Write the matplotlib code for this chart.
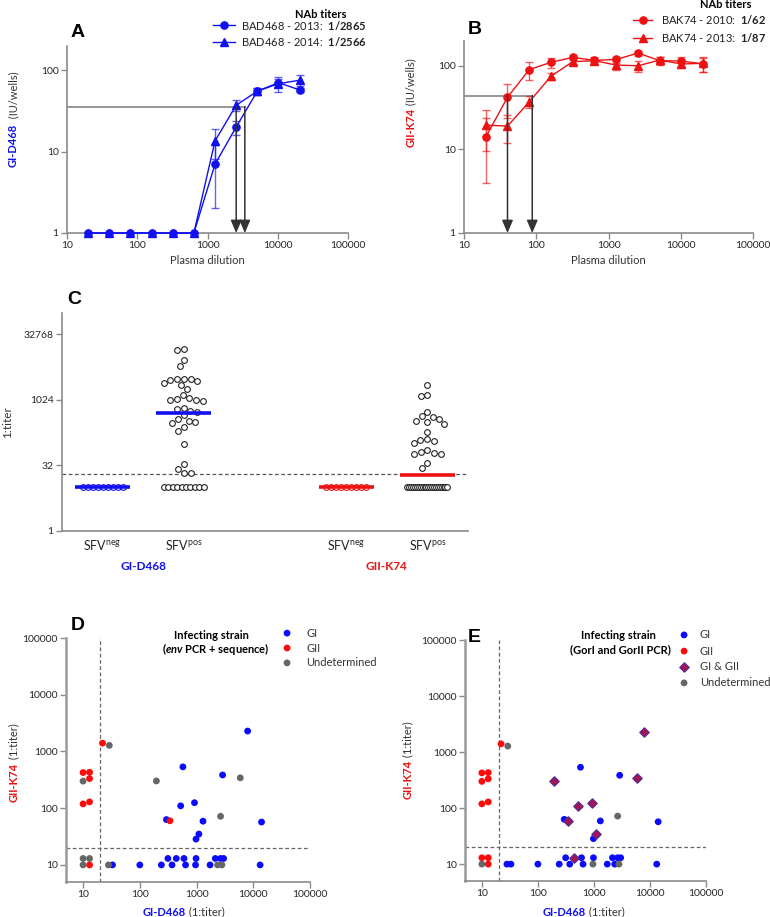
import numpy as np
import matplotlib
matplotlib.use("Agg")
import matplotlib.pyplot as plt
from matplotlib.ticker import NullLocator

plt.rcParams.update({
    "font.family": ["Lato", "DejaVu Sans"],
    "mathtext.fontset": "custom",
    "mathtext.rm": "Lato",
    "mathtext.bf": "Lato:bold",
    "mathtext.it": "Lato:italic:bold",
    "axes.edgecolor": "#8a8a8a",
    "axes.linewidth": 1.2,
    "xtick.color": "#8a8a8a",
    "ytick.color": "#8a8a8a",
    "xtick.labelcolor": "#262626",
    "ytick.labelcolor": "#262626",
})

BLUE = "#1010f0"
RED = "#ee1111"
GREY = "#666666"

# ---- Panels A / B : neutralisation curves ----
dilutions = [20, 40, 80, 160, 320, 640, 1280, 2560, 5120, 10240, 20480]
a_2013 = [1, 1, 1, 1, 1, 1, 7, 20, 55, 70, 57]
a_2013_sd = [0, 0, 0, 0, 0, 0, 5, 4, 6, 8, 3]
a_2014 = [1, 1, 1, 1, 1, 1, 13.5, 37, 55, 68, 75]
a_2014_sd = [0, 0, 0, 0, 0, 0, 5.5, 6, 6, 14, 12]
a_cut = 35.5
a_arrows = [2560, 3400]

b_2010 = [14, 42, 90, 110, 126, 116, 119, 142, 115, 114, 105]
b_2010_sd = [10, 18, 22, 15, 10, 12, 10, 10, 12, 15, 20]
b_2013 = [19.5, 19, 37, 75, 112, 115, 102, 100, 117, 105, 107]
b_2013_sd = [10, 7, 6, 7, 8, 8, 12, 15, 12, 12, 22]
b_cut = 44
b_arrows = [40, 88]

# ---- Panel C : titers per group ----
c_labels = ["SFV$^{\\mathrm{neg}}$", "SFV$^{\\mathrm{pos}}$",
            "SFV$^{\\mathrm{neg}}$", "SFV$^{\\mathrm{pos}}$"]
c_pos = [1, 2, 4, 5]
gi_neg = [10] * 9
gi_pos = [14800, 14000, 8400, 6200, 3100, 3100, 3000, 2900, 2700, 2500, 2200, 1780,
          1330, 1140, 1040, 1000, 1000, 970, 660, 625, 580, 550, 446, 374, 342, 313,
          302, 240, 201, 99, 34, 27, 21.7, 21.7] + [10] * 10
gii_neg = [10] * 9
gii_pos = [2270, 1350, 1260, 533, 430, 415, 380, 342, 324, 292, 185, 127, 123, 116,
           106, 71, 64, 61, 58.5, 58.5, 35.5, 28] + [10] * 22
c_cut = 20

# ---- Panels D / E : GI vs GII titers ----
scat_gi = [10, 13, 13, 10, 10, 13, 22, 29, 7950, 575, 2880, 196, 5900, 920, 525, 295,
           340, 2650, 1300, 14000, 1100, 980,
           10, 13, 313, 440, 600, 980, 2140, 2650, 3000,
           10, 13, 28, 33, 100, 240, 370, 640, 960, 1730, 2350, 2800, 13200]
scat_gii = [425, 430, 333, 300, 119, 129, 1400, 1280, 2290, 535, 385, 302, 343, 125,
            110, 63, 60, 72, 59, 57, 35, 28.5] + [13] * 9 + [10] * 13
env_group = ["GII", "GII", "GII", "Und", "GII", "GII", "GII", "Und", "GI", "GI", "GI",
             "Und", "Und", "GI", "GI", "GI", "GII", "Und", "GI", "GI", "GI", "GI",
             "Und", "Und", "GI", "GI", "GI", "GI", "GI", "GI", "GI",
             "Und", "GII", "Und", "GI", "GI", "GI", "GI", "GI", "GI", "GI", "Und", "Und", "GI"]
gor_group = ["GII", "GII", "GII", "GII", "GII", "GII", "GII", "Und", "GI&GII", "GI", "GI",
             "GI&GII", "GI&GII", "GI&GII", "GI&GII", "GI", "GI&GII", "Und", "GI", "GI", "GI&GII", "GI",
             "GII", "GII", "GI", "GI&GII", "GI", "GI", "GI", "GI", "GI",
             "Und", "GII", "GI", "GI", "GI", "GI", "GI", "GI", "Und", "GI", "GI", "Und", "GI"]
cut_scatter = 20

W, H = 770, 917
fig = plt.figure(figsize=(W / 100, H / 100), dpi=100)


def box(left, right, top, bottom):
    return [left / W, 1 - bottom / H, (right - left) / W, (bottom - top) / H]


def style(ax, fs=7.5):
    for s in ["top", "right"]:
        ax.spines[s].set_visible(False)
    ax.tick_params(direction="out", length=4, width=1, labelsize=fs, pad=2)
    ax.xaxis.set_minor_locator(NullLocator())
    ax.yaxis.set_minor_locator(NullLocator())


def log_ticks(ax, axis, vals):
    labels = [str(v) for v in vals]
    if axis == "x":
        ax.set_xticks(vals)
        ax.set_xticklabels(labels)
        ax.xaxis.set_minor_locator(NullLocator())
    else:
        ax.set_yticks(vals)
        ax.set_yticklabels(labels)
        ax.yaxis.set_minor_locator(NullLocator())


def vlabel(ax, x, y, first, color, second, fs=8):
    ax.text(x, y, first, color=color, fontweight="bold", rotation=90, ha="center",
            va="top", fontsize=fs, transform=ax.transAxes)
    ax.text(x, y, second, color="#333333", rotation=90, ha="center", va="bottom",
            fontsize=fs, transform=ax.transAxes)


def hlabel(ax, x, y, first, color, second, fs=8):
    ax.text(x, y, first, color=color, fontweight="bold", ha="right", va="center",
            fontsize=fs, transform=ax.transAxes)
    ax.text(x, y, second, color="#333333", ha="left", va="center", fontsize=fs,
            transform=ax.transAxes)


def curve_panel(ax, s1, sd1, s2, sd2, color, cut, arrows, names, ylab):
    ax.set_xscale("log")
    ax.set_yscale("log")
    ax.set_xlim(10, 100000)
    ax.set_ylim(1, 200)
    style(ax)
    log_ticks(ax, "x", [10, 100, 1000, 10000, 100000])
    log_ticks(ax, "y", [1, 10, 100])
    x = np.array(dilutions)
    for vals, sd, mk in [(s1, sd1, "o"), (s2, sd2, "^")]:
        vals, sd = np.array(vals, float), np.array(sd, float)
        m = sd > 0
        ax.errorbar(x[m], vals[m], yerr=sd[m], fmt="none", ecolor=color, alpha=0.65,
                    elinewidth=1, capsize=3, capthick=1, zorder=3)
        ax.plot(x, vals, "-" + mk, color=color, ms=5.2, lw=1, zorder=4, clip_on=False)
    ax.plot([10, max(arrows)], [cut, cut], color="#7a7a7a", lw=1.1, zorder=2)
    for xa in arrows:
        ax.annotate("", xy=(xa, 1), xytext=(xa, cut),
                    arrowprops=dict(arrowstyle="-|>,head_length=0.7,head_width=0.3",
                                    color="#333333", lw=1.1, mutation_scale=11,
                                    shrinkA=0, shrinkB=0), zorder=5)
    ax.set_xlabel("Plasma dilution", fontsize=8, color="#333333", labelpad=3)
    vlabel(ax, ylab[0], ylab[1], ylab[2], color, ylab[3])
    # legend
    lx0, lx1, ty, y1, y2, tx, hx = names["geom"]
    ax.text(hx, ty, "NAb titers", fontweight="bold", fontsize=8, ha="center",
            va="center", transform=ax.transAxes)
    for yy, mk, lab in [(y1, "o", names["l1"]), (y2, "^", names["l2"])]:
        ax.plot([lx0, lx1], [yy, yy], color=color, lw=1, transform=ax.transAxes,
                clip_on=False)
        ax.plot([(lx0 + lx1) / 2], [yy], mk, color=color, ms=5.2,
                transform=ax.transAxes, clip_on=False)
        ax.text(tx, yy, lab, fontsize=8, ha="left", va="center", color="#222222",
                transform=ax.transAxes)


# Panel A
axA = fig.add_axes(box(67, 348, 45.5, 233))
curve_panel(axA, a_2013, a_2013_sd, a_2014, a_2014_sd, BLUE, a_cut, a_arrows,
            {"geom": (0.52, 0.598, 1.168, 1.109, 1.019, 0.619, 0.904),
             "l1": "BAD468 - 2013:  $\\mathbf{1/2865}$",
             "l2": "BAD468 - 2014:  $\\mathbf{1/2566}$"},
            (-0.19, 0.58, "GI-D468", "  (IU/wells)"))

# Panel B
axB = fig.add_axes(box(464, 753, 40.6, 233))
curve_panel(axB, b_2010, b_2010_sd, b_2013, b_2013_sd, RED, b_cut, b_arrows,
            {"geom": (0.585, 0.651, 1.1875, 1.109, 1.016, 0.682, 0.907),
             "l1": "BAK74 - 2010:  $\\mathbf{1/62}$",
             "l2": "BAK74 - 2013:  $\\mathbf{1/87}$"},
            (-0.183, 0.65, "GII-K74", " (IU/wells)"))


# Panel C
def swarm_x(ax, xc, vals, diam=7.0, floor_width=40.0):
    vals = np.asarray(vals, float)
    xs = np.full(len(vals), float(xc))
    tr = ax.transData
    ppu = tr.transform((xc + 1, 10))[0] - tr.transform((xc, 10))[0]
    ypx = tr.transform(np.column_stack([xs, vals]))[:, 1]
    floor = vals == vals.min()
    idx = np.where(floor)[0]
    k = len(idx)
    if k > 1:
        step = min(diam * 0.85, floor_width / (k - 1))
        xs[idx] = xc + (np.arange(k) - (k - 1) / 2) * step / ppu
    placed = []
    for i in np.argsort(-vals, kind="stable"):
        if floor[i]:
            continue
        cands = [0.0]
        for px, py in placed:
            dy = abs(py - ypx[i])
            if dy < diam:
                dx = np.sqrt(diam ** 2 - dy ** 2)
                cands += [px - dx, px + dx]
        cands.sort(key=lambda c: (abs(c), c))
        for c in cands:
            if all((c - px) ** 2 + (ypx[i] - py) ** 2 >= diam ** 2 - 1e-6 for px, py in placed):
                break
        placed.append((c, ypx[i]))
        xs[i] = xc + c / ppu
    return xs


axC = fig.add_axes(box(62, 468, 313, 531))
axC.set_yscale("log", base=2)
axC.set_ylim(1, 100000)
axC.set_xlim(0.5, 5.5)
style(axC)
log_ticks(axC, "y", [1, 32, 1024, 32768])
axC.set_xticks(c_pos)
axC.set_xticklabels(c_labels, fontsize=9)
axC.tick_params(axis="x", length=0, pad=5)
axC.axhline(c_cut, color="#555555", ls=(0, (3, 2)), lw=0.9, zorder=1)
for xc, vals, edge, mcol in [(1, gi_neg, BLUE, BLUE), (2, gi_pos, "#222222", BLUE),
                             (4, gii_neg, RED, RED), (5, gii_pos, "#222222", RED)]:
    xs = swarm_x(axC, xc, vals)
    axC.scatter(xs, vals, s=17, facecolors="white", edgecolors=edge, linewidths=0.8,
                zorder=3, clip_on=False)
    axC.hlines(np.median(vals), xc - 0.34, xc + 0.34, color=mcol, lw=2.6, zorder=4)
xtr = axC.get_xaxis_transform()
axC.text(1.5, -0.165, "GI-D468", color=BLUE, fontweight="bold", fontsize=8.5,
         ha="center", va="center", transform=xtr)
axC.text(4.5, -0.165, "GII-K74", color=RED, fontweight="bold", fontsize=8.5,
         ha="center", va="center", transform=xtr)
axC.text(-0.133, 0.5, "1:titer", rotation=90, fontsize=8.5, color="#333333",
         ha="center", va="center", transform=axC.transAxes)

# Panels D / E
styles = {
    "GI": dict(marker="o", s=24, color="#0a0aff", edgecolors="none"),
    "GII": dict(marker="o", s=24, color="#ff0a0a", edgecolors="none"),
    "GI&GII": dict(marker="D", s=22, facecolors="#a8124e", edgecolors="#5a2a90",
                   linewidths=1),
    "Und": dict(marker="o", s=24, color=GREY, edgecolors="none"),
}
names = {"GI": "GI", "GII": "GII", "GI&GII": "GI & GII", "Und": "Undetermined"}


def scatter_panel(ax, groups, order, title2, geom):
    ax.set_xscale("log")
    ax.set_yscale("log")
    ax.set_xlim(5, 100000)
    ax.set_ylim(5, 100000)
    style(ax)
    ax.spines["left"].set_linewidth(1.8)
    ax.spines["left"].set_color("#9a9a9a")
    log_ticks(ax, "x", [10, 100, 1000, 10000, 100000])
    log_ticks(ax, "y", [10, 100, 1000, 10000, 100000])
    ax.axvline(cut_scatter, color="#666666", ls=(0, (3, 2)), lw=0.9, zorder=1)
    ax.axhline(cut_scatter, color="#666666", ls=(0, (3, 2)), lw=0.9, zorder=1)
    gx, gy = np.array(scat_gi, float), np.array(scat_gii, float)
    g = np.array(groups)
    for name in ["GI", "GII", "Und", "GI&GII"]:
        m = g == name
        if m.any():
            ax.scatter(gx[m], gy[m], zorder=3, clip_on=False, **styles[name])
    tx, t1y, t2x, t2y, mx, my, lx = geom
    ax.text(tx, t1y, "Infecting strain", fontweight="bold", fontsize=8, ha="center",
            va="center", transform=ax.transAxes)
    ax.text(t2x, t2y, title2, fontweight="bold", fontsize=8, ha="center",
            va="center", transform=ax.transAxes)
    for name, yy in zip(order, my):
        ax.scatter([mx], [yy], transform=ax.transAxes, clip_on=False, **styles[name])
        ax.text(lx, yy, names[name], fontsize=8, color="#333333", ha="left",
                va="center", transform=ax.transAxes)


axD = fig.add_axes(box(66, 310, 638, 882))
scatter_panel(axD, env_group, ["GI", "GII", "Und"], "($\\mathit{env}$ PCR + sequence)",
              (0.598, 1.012, 0.615, 0.955, 0.906, [1.02, 0.959, 0.898], 0.984))
vlabel(axD, -0.213, 0.49, "GII-K74", RED, " (1:titer)")
hlabel(axD, 0.49, -0.123, "GI-D468", BLUE, " (1:titer)")

axE = fig.add_axes(box(465, 706, 640, 881))
scatter_panel(axE, gor_group, ["GI", "GII", "GI&GII", "Und"], "(GorI and GorII PCR)",
              (0.635, 1.02, 0.647, 0.959, 0.909, [1.021, 0.954, 0.888, 0.822], 0.975))
vlabel(axE, -0.237, 0.502, "GII-K74", RED, " (1:titer)")
hlabel(axE, 0.502, -0.129, "GI-D468", BLUE, " (1:titer)")

# panel letters
for lab, x, y in [("A", 71, 24), ("B", 468, 21), ("C", 67, 291), ("D", 71, 617), ("E", 468, 629)]:
    fig.text(x / W, 1 - y / H, lab, fontsize=14, fontweight="bold",
             family="Liberation Sans", ha="left", va="top")

fig.savefig("out.png", dpi=100)
